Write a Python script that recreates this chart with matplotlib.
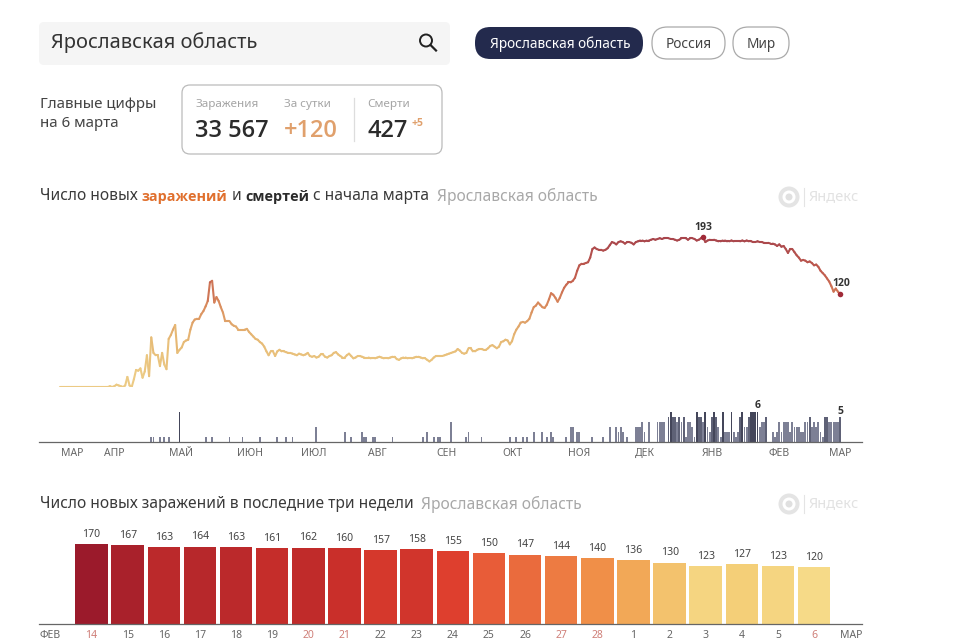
import matplotlib
matplotlib.use("Agg")
import matplotlib.pyplot as plt
import numpy as np
from matplotlib.collections import LineCollection
from matplotlib.colors import LinearSegmentedColormap, Normalize
from matplotlib.patches import Circle, FancyBboxPatch

plt.rcParams["font.family"] = ["Noto Sans", "DejaVu Sans"]
BOLD_FONT = ["Open Sans", "DejaVu Sans"]

REGION = "Ярославская область"
W, H = 960, 640

# last three weeks, also the tail of the daily line
DAY_LABELS = ["14", "15", "16", "17", "18", "19", "20", "21", "22", "23", "24", "25", "26", "27", "28",
              "1", "2", "3", "4", "5", "6"]
WEEKEND_LABELS = ["14", "20", "21", "27", "28", "6"]
LAST_WEEKS = [170, 167, 163, 164, 163, 161, 162, 160, 157, 158, 155, 150, 147, 144, 140, 136, 130, 123, 127, 123, 120]

EARLIER_CASES = [
    0, 0, 0, 0, 0, 0, 0, 0, 0, 0, 0, 0, 0, 0, 0, 0, 0, 0, 0, 0,
    0, 0, 0, 1, 0, 1, 3, 2, 1, 0, 2, 13, 2, 0, 10, 22, 21, 24, 12, 20,
    41, 14, 64, 44, 41, 41, 27, 44, 29, 23, 62, 67, 74, 80, 44, 48, 51, 58, 60, 61,
    74, 83, 87, 88, 88, 94, 98, 104, 111, 135, 137, 109, 116, 111, 103, 96, 85, 85, 85, 81,
    79, 78, 74, 74, 74, 74, 75, 71, 68, 65, 62, 61, 58, 56, 52, 46, 41, 46, 46, 40,
    46, 48, 46, 46, 45, 44, 44, 43, 42, 41, 43, 42, 41, 42, 44, 40, 39, 40, 38, 39,
    42, 42, 39, 38, 40, 41, 44, 45, 42, 40, 38, 38, 41, 43, 40, 37, 38, 40, 40, 39,
    38, 38, 38, 37, 37, 37, 38, 39, 38, 37, 37, 37, 38, 39, 39, 36, 35, 37, 38, 38,
    37, 37, 37, 38, 39, 39, 38, 37, 37, 35, 33, 35, 38, 40, 40, 40, 40, 41, 42, 43,
    44, 45, 46, 49, 47, 44, 43, 44, 50, 50, 46, 46, 48, 49, 49, 48, 48, 50, 53, 54,
    52, 50, 52, 58, 59, 61, 60, 55, 59, 68, 74, 78, 83, 84, 83, 85, 88, 96, 103, 105,
    109, 106, 103, 102, 106, 113, 121, 119, 115, 110, 115, 122, 128, 132, 135, 135, 137, 141, 150, 157,
    159, 159, 160, 161, 167, 178, 180, 178, 177, 177, 176, 177, 179, 183, 187, 186, 184, 187, 188, 187,
    185, 187, 187, 186, 184, 187, 188, 189, 189, 188, 189, 189, 190, 191, 190, 191, 192, 191, 192, 192,
    192, 191, 191, 190, 189, 190, 192, 192, 192, 190, 192, 192, 191, 189, 190, 192, 193, 187, 189, 190,
    190, 190, 189, 188, 188, 189, 189, 188, 188, 189, 188, 188, 188, 188, 189, 188, 189, 188, 188, 187,
    187, 188, 187, 187, 186, 186, 186, 185, 185, 184, 182, 184, 181, 182, 178, 173, 178, 178, 174,
]

DEATHS = [
    0, 0, 0, 0, 0, 0, 0, 0, 0, 0, 0, 0, 0, 0, 0, 0, 0, 0, 0, 0,
    0, 0, 0, 0, 0, 0, 0, 0, 0, 0, 0, 0, 0, 0, 0, 0, 0, 0, 0, 0,
    0, 0, 1, 1, 0, 0, 1, 0, 1, 0, 1, 0, 0, 0, 0, 6, 0, 0, 0, 0,
    0, 0, 0, 0, 0, 0, 0, 1, 0, 0, 1, 0, 0, 0, 0, 0, 0, 0, 1, 0,
    0, 0, 0, 0, 1, 0, 0, 0, 0, 0, 0, 0, 1, 0, 0, 0, 0, 0, 0, 0,
    1, 0, 0, 0, 1, 0, 0, 1, 0, 0, 0, 0, 0, 0, 0, 0, 0, 0, 3, 0,
    0, 0, 0, 0, 0, 0, 0, 0, 0, 0, 0, 2, 0, 0, 1, 0, 0, 0, 0, 2,
    1, 1, 0, 0, 1, 1, 0, 0, 0, 0, 0, 0, 0, 1, 0, 0, 0, 0, 0, 0,
    0, 0, 0, 0, 0, 0, 0, 1, 0, 2, 0, 0, 1, 0, 1, 1, 0, 0, 0, 0,
    4, 0, 0, 0, 0, 0, 0, 1, 2, 0, 0, 0, 0, 0, 1, 0, 0, 0, 0, 0,
    0, 0, 0, 0, 0, 0, 0, 1, 0, 0, 1, 0, 0, 1, 0, 1, 0, 0, 2, 0,
    0, 0, 2, 0, 1, 0, 2, 1, 0, 0, 0, 0, 0, 1, 0, 3, 3, 0, 2, 2,
    0, 0, 0, 0, 0, 1, 0, 0, 0, 0, 1, 0, 0, 3, 0, 0, 3, 2, 3, 2,
    0, 1, 0, 0, 0, 3, 3, 3, 4, 2, 0, 4, 0, 0, 0, 4, 4, 4, 4, 0,
    5, 6, 5, 5, 4, 5, 4, 5, 1, 4, 4, 3, 1, 6, 5, 5, 4, 6, 3, 2,
    5, 6, 5, 3, 1, 6, 2, 2, 2, 6, 2, 1, 2, 5, 6, 3, 3, 5, 6, 6,
    6, 6, 3, 4, 4, 5, 0, 0, 2, 1, 2, 4, 2, 4, 4, 4, 2, 4, 3, 3,
    3, 2, 2, 4, 4, 5, 3, 4, 3, 4, 2, 1, 5, 5, 4, 4, 4, 4, 4, 5,
]

MONTH_LABELS = ["МАР", "АПР", "МАЙ", "ИЮН", "ИЮЛ", "АВГ", "СЕН", "ОКТ", "НОЯ", "ДЕК", "ЯНВ", "ФЕВ", "МАР"]
MONTH_DAYS = [5.5, 25, 55.7, 87.4, 117, 146, 178, 208, 239, 269, 300, 331, 359]

BAR_CMAP = LinearSegmentedColormap.from_list("bars", [
    (0.0, "#f6da88"), (0.14, "#f4cf78"), (0.3, "#f2ad5a"), (0.4, "#f08f48"),
    (0.6, "#e85c38"), (0.7, "#de3f2e"), (0.8, "#c92f2a"), (0.9, "#b3262b"), (1.0, "#9b1a2b"),
])
LINE_CMAP = LinearSegmentedColormap.from_list("line", [
    (0.0, "#ecca84"), (0.25, "#e6b874"), (0.5, "#d98a5c"), (0.7, "#c4604f"), (1.0, "#a8454c"),
])

DAY_PX = 2.173  # width of one day on the top chart


def px_axes(fig, left, top, right, bottom):
    return fig.add_axes([left / W, 1 - bottom / H, (right - left) / W, (bottom - top) / H])


def pill(ax, x0, y0, x1, y1, radius, **kwargs):
    ax.add_patch(FancyBboxPatch((x0 + radius, y0 + radius), x1 - x0 - 2 * radius, y1 - y0 - 2 * radius,
                                boxstyle=f"round,pad={radius},rounding_size={radius}", **kwargs))


def watermark(ax, y):
    ax.add_patch(Circle((789, y), 10.5, color="#e4e4e4", lw=0))
    ax.add_patch(Circle((789, y), 6.5, color="white", lw=0))
    ax.add_patch(Circle((789, y), 3.5, color="#e0e0e0", lw=0))
    ax.plot([804, 804], [y - 9, y + 9], color="#e4e4e4", lw=0.8)
    ax.text(809, y, "Яндекс", fontsize=10.5, color="#e2e2e2", va="center")


def death_colour(n):
    if n >= 6:
        return "#44465a"
    if n == 5:
        return "#5e6176"
    return "#7d8095"


fig = plt.figure(figsize=(W / 100, H / 100), dpi=100, facecolor="white")

# daily cases line
cases = np.array(EARLIER_CASES + LAST_WEEKS, dtype=float)
days = np.arange(len(cases))
xlim = ((39 - 60) / DAY_PX, (862 - 60) / DAY_PX)

ax_line = px_axes(fig, 39, 225, 862, 387)
points = np.column_stack([days, cases])
segments = np.stack([points[:-1], points[1:]], axis=1)
lc = LineCollection(segments, cmap=LINE_CMAP, norm=Normalize(20, 193), linewidth=1.5, capstyle="round")
lc.set_array((cases[:-1] + cases[1:]) / 2)
ax_line.add_collection(lc)
peak = int(np.argmax(cases))
ax_line.scatter([days[peak], days[-1]], [cases[peak], cases[-1]], s=16, color="#a02a38", zorder=3, lw=0)
ax_line.text(days[peak], cases[peak] + 6, "193", ha="center", va="bottom", fontsize=7.5, fontweight="bold",
             family=BOLD_FONT, color="#333333")
ax_line.text(days[-1] + 0.5, cases[-1] + 6, "120", ha="center", va="bottom", fontsize=7.5, fontweight="bold",
             family=BOLD_FONT, color="#333333")
ax_line.set_xlim(xlim)
ax_line.set_ylim(0, 162 / 0.775)
ax_line.axis("off")

# daily deaths
ax_deaths = px_axes(fig, 39, 397, 862, 442)
ax_deaths.bar(np.arange(len(DEATHS)), DEATHS, width=0.85, color=[death_colour(n) for n in DEATHS])
ax_deaths.text(321, 6.2, "6", ha="center", va="bottom", fontsize=7.5, fontweight="bold", family=BOLD_FONT, color="#333333")
ax_deaths.text(359, 5.1, "5", ha="center", va="bottom", fontsize=7.5, fontweight="bold", family=BOLD_FONT, color="#333333")
ax_deaths.set_xlim(xlim)
ax_deaths.set_ylim(0, 9)
ax_deaths.set_yticks([])
ax_deaths.set_xticks(MONTH_DAYS, MONTH_LABELS)
ax_deaths.tick_params(axis="x", length=0, labelsize=7.5, labelcolor="#666666", pad=4)
for side in ["top", "left", "right"]:
    ax_deaths.spines[side].set_visible(False)
ax_deaths.spines["bottom"].set_color("#666666")
ax_deaths.spines["bottom"].set_linewidth(0.9)
ax_deaths.patch.set_alpha(0)

# last three weeks bars
ax_bars = px_axes(fig, 39, 525, 862, 624)
positions = np.arange(len(LAST_WEEKS))
bar_norm = Normalize(120, 170)
bars = ax_bars.bar(positions, LAST_WEEKS, width=0.9, color=BAR_CMAP(bar_norm(np.array(LAST_WEEKS))))
ax_bars.bar_label(bars, padding=3, fontsize=7.5, color="#444444")
ax_bars.set_xlim((39 - 91.5) / 36.13, (862 - 91.5) / 36.13)
ax_bars.set_ylim(0, 99 / 0.472)
ax_bars.set_yticks([])
ax_bars.set_xticks([-1.15] + list(positions) + [21.02], ["ФЕВ"] + DAY_LABELS + ["МАР"])
ax_bars.tick_params(axis="x", length=0, labelsize=7.5, labelcolor="#666666", pad=4.5)
for label in ax_bars.get_xticklabels():
    if label.get_text() in WEEKEND_LABELS:
        label.set_color("#cf7f78")
for side in ["top", "left", "right"]:
    ax_bars.spines[side].set_visible(False)
ax_bars.spines["bottom"].set_color("#666666")
ax_bars.spines["bottom"].set_linewidth(0.9)
ax_bars.patch.set_alpha(0)

# page furniture, in pixels of the picture
ui = fig.add_axes([0, 0, 1, 1], zorder=5)
ui.set_xlim(0, W)
ui.set_ylim(H, 0)
ui.axis("off")

pill(ui, 39, 22, 450, 65, 5, facecolor="#f5f5f5", edgecolor="none")
ui.text(51, 43, REGION, fontsize=14.4, color="#333333", va="center")
ui.add_patch(Circle((426, 40.5), 6, fill=False, edgecolor="#222222", lw=1.4))
ui.plot([430.5, 436], [45, 50.5], color="#222222", lw=1.6)

pill(ui, 475, 27, 643, 59, 15.5, facecolor="#232a4d", edgecolor="none")
ui.text(560, 44, REGION, fontsize=9.85, color="white", ha="center", va="center")
pill(ui, 652, 27, 725, 59, 15.5, facecolor="white", edgecolor="#aaaaaa", lw=0.9)
ui.text(688.5, 44, "Россия", fontsize=9.85, color="#444444", ha="center", va="center")
pill(ui, 733, 27, 789, 59, 15.5, facecolor="white", edgecolor="#aaaaaa", lw=0.9)
ui.text(761, 44, "Мир", fontsize=9.85, color="#444444", ha="center", va="center")

ui.text(40, 104.5, "Главные цифры", fontsize=10.9, color="#444444", va="center")
ui.text(40, 123.5, "на 6 марта", fontsize=10.9, color="#444444", va="center")

pill(ui, 182, 85, 442, 154, 8, facecolor="white", edgecolor="#bbbbbb", lw=0.9)
for x, word in [(195, "Заражения"), (284, "За сутки"), (367, "Смерти")]:
    ui.text(x, 105, word, fontsize=8.4, color="#a5a5a5", va="center")
ui.text(195, 131, "33 567", fontsize=17, color="#2b2b2b", va="center", fontweight="semibold", family=BOLD_FONT)
ui.text(284, 131, "+120", fontsize=17, color="#e0a06c", va="center", fontweight="semibold", family=BOLD_FONT)
ui.text(367, 131, "427", fontsize=17, color="#2b2b2b", va="center", fontweight="semibold", family=BOLD_FONT)
ui.text(412, 124, "+5", fontsize=7.5, color="#e0a06c", va="center", fontweight="bold", family=BOLD_FONT)
ui.plot([354, 354], [98, 141], color="#dddddd", lw=0.9)

# titles
TITLE_SIZE = 11.2
for x, word, color, weight, family in [
    (40, "Число новых", "#3a3a3a", "normal", None),
    (141, "заражений", "#e0702e", "bold", BOLD_FONT),
    (232, "и", "#3a3a3a", "normal", None),
    (245, "смертей", "#2b2b2b", "bold", BOLD_FONT),
    (313, "с начала марта", "#3a3a3a", "normal", None),
    (437, REGION, "#a8a8a8", "normal", None),
]:
    ui.text(x, 196.5, word, fontsize=TITLE_SIZE if family is None else 10.4, color=color, fontweight=weight, family=family, va="center")
ui.text(40, 504.5, "Число новых заражений в последние три недели", fontsize=TITLE_SIZE, color="#3a3a3a", va="center")
ui.text(421, 504.5, REGION, fontsize=TITLE_SIZE, color="#a8a8a8", va="center")
watermark(ui, 197)
watermark(ui, 504)

fig.savefig("out.png", dpi=100)
plt.close(fig)
